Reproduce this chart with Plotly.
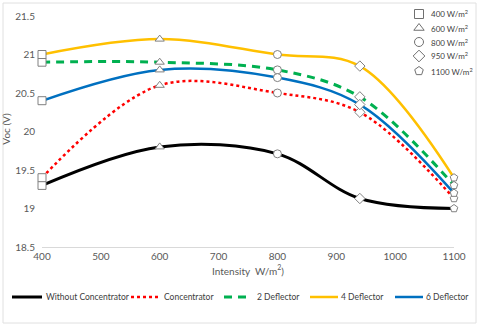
import plotly.graph_objects as go

intensity = [400, 600, 800, 940, 1100]
without_conc = [19.3, 19.8, 19.71, 19.13, 19.0]
concentrator = [19.4, 20.6, 20.5, 20.25, 19.13]
deflector2 = [20.9, 20.9, 20.8, 20.45, 19.3]
deflector4 = [21.0, 21.2, 21.0, 20.85, 19.4]
deflector6 = [20.4, 20.8, 20.7, 20.35, 19.2]

marker_symbols = ["square", "triangle-up", "circle", "diamond", "pentagon"]
marker_labels = ["400 W/m<sup>2</sup>", "600 W/m<sup>2</sup>", "800 W/m<sup>2</sup>",
                 "950 W/m<sup>2</sup>", "1100 W/m<sup>2</sup>"]

series_names = ["Without Concentrator", "Concentrator", "2 Deflector", "4 Deflector", "6 Deflector"]
series_values = [without_conc, concentrator, deflector2, deflector4, deflector6]
series_colors = ["#000000", "#FF0000", "#00B050", "#FFC000", "#0070C0"]
series_dash = ["solid", "dot", "8px,6px", "solid", "solid"]
series_width = [3, 2.5, 3, 2.5, 2.5]

W, H = 480, 328
ML, MR, MT, MB = 42, 26, 11, 81
pw = W - ML - MR
ph = H - MT - MB
y_top = 18.5 + ph / 77.0  # keeps 21.5 at the same height as in the reference


def px(x):
    return (x - ML) / pw


def py(y):
    return 1 - (y - MT) / ph


fig = go.Figure()
for name, vals, color, dash, width in zip(series_names, series_values, series_colors,
                                          series_dash, series_width):
    fig.add_trace(go.Scatter(
        x=intensity, y=vals, name=name, mode="lines+markers", showlegend=False,
        line=dict(color=color, dash=dash, width=width, shape="spline", smoothing=1),
        marker=dict(symbol=marker_symbols, size=8, color="white",
                    line=dict(color="#808080", width=1)),
        cliponaxis=False,
    ))

# marker-shape legend (top right)
leg_rows = [14, 28, 42, 56, 71]
fig.add_trace(go.Scatter(
    x=[px(419)] * len(marker_symbols), y=[py(r) for r in leg_rows],
    xaxis="x2", yaxis="y2", mode="markers", showlegend=False, hoverinfo="skip",
    marker=dict(symbol=marker_symbols, size=9, color="white",
                line=dict(color="#707070", width=1)),
    cliponaxis=False,
))
annotations = []
for lab, r in zip(marker_labels, leg_rows):
    annotations.append(dict(text=lab, xref="paper", yref="paper", x=px(429), y=py(r),
                            xanchor="left", yanchor="middle", showarrow=False,
                            font=dict(size=8, color="#404040")))

# line legend (bottom)
shapes = []
leg_line = [(12, 42, 46), (131, 160, 164), (224, 251, 257), (310, 338, 341), (395, 423, 426)]
for name, color, dash, width, (a, b, t) in zip(series_names, series_colors, series_dash,
                                              series_width, leg_line):
    shapes.append(dict(type="line", xref="paper", yref="paper", x0=px(a), x1=px(b),
                       y0=py(297), y1=py(297),
                       line=dict(color=color, dash=dash, width=width)))
    annotations.append(dict(text=name, xref="paper", yref="paper", x=px(t - 2), y=py(297),
                            xanchor="left", yanchor="middle", showarrow=False,
                            font=dict(size=8.5, color="#404040")))

shapes.append(dict(type="rect", xref="paper", yref="paper",
                   x0=px(3), x1=px(476), y0=py(323), y1=py(3),
                   line=dict(color="#e0e0e0", width=1), fillcolor="rgba(0,0,0,0)",
                   layer="below"))

fig.update_layout(
    width=W, height=H,
    margin=dict(l=ML, r=MR, t=MT, b=MB, autoexpand=False),
    paper_bgcolor="white", plot_bgcolor="white",
    font=dict(family="Lato, Open Sans, sans-serif", size=10, color="#595959"),
    showlegend=False,
    shapes=shapes, annotations=annotations,
    xaxis=dict(range=[400, 1100], dtick=100, showgrid=False, zeroline=False,
               showline=True, linecolor="#d9d9d9", linewidth=1, ticks="",
               title=dict(text="Intensity  W/m<sup>2</sup>)", font=dict(size=10, color="#595959"),
                          standoff=6),
               tickfont=dict(size=10)),
    yaxis=dict(range=[18.5, y_top], tick0=18.5, dtick=0.5, showgrid=False, zeroline=False,
               showline=False, ticks="", ticklabelstandoff=6,
               title=dict(text="Voc (V)", font=dict(size=10, color="#595959"), standoff=4),
               tickfont=dict(size=10)),
    xaxis2=dict(overlaying="x", range=[0, 1], visible=False, fixedrange=True),
    yaxis2=dict(overlaying="y", range=[0, 1], visible=False, fixedrange=True),
)

fig.write_html("out.html", config={"displayModeBar": False},
               post_script="document.body.style.margin='0px';")
